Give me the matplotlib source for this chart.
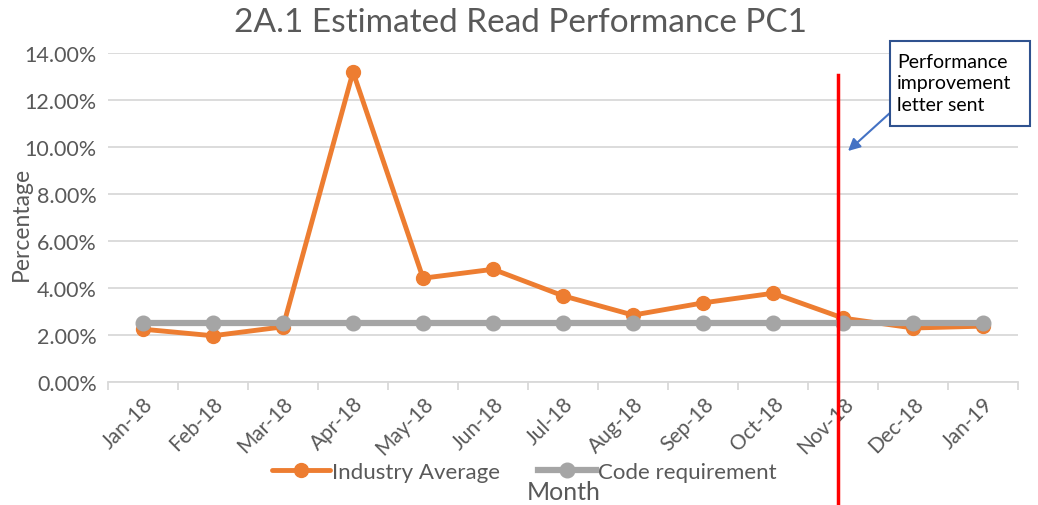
import matplotlib.pyplot as plt
from matplotlib.patches import Rectangle

plt.rcParams['font.family'] = ['Lato', 'DejaVu Sans']

# data
months = ["Jan-18", "Feb-18", "Mar-18", "Apr-18", "May-18", "Jun-18", "Jul-18",
          "Aug-18", "Sep-18", "Oct-18", "Nov-18", "Dec-18", "Jan-19"]
industry_avg = [2.25, 1.97, 2.35, 13.2, 4.42, 4.8, 3.67, 2.85, 3.37, 3.78, 2.72, 2.3, 2.38]
code_req = [2.5] * len(months)
letter_pos = 9.93  # red line, just before Nov-18

fig = plt.figure(figsize=(10.38, 5.06), dpi=100)
ax = fig.add_axes([0.104, 0.243, 0.877, 0.65])

x = range(len(months))
ax.plot(x, industry_avg, color="#ED7D31", lw=3.5, marker="o", ms=10,
        label="Industry Average", zorder=3, solid_capstyle="round")
ax.plot(x, code_req, color="#A5A5A5", lw=4.5, marker="o", ms=10.5,
        label="Code requirement", zorder=4)

ax.set_xlim(-0.5, len(months) - 0.5)
ax.set_ylim(0, 14)
ax.set_yticks(range(0, 15, 2))
ax.set_yticklabels([f"{v:.2f}%" for v in range(0, 15, 2)])
ax.set_xticks(list(x))
ax.set_xticklabels(months, rotation=45, ha="right", rotation_mode="anchor")
ax.set_xticks([i - 0.5 for i in range(len(months) + 1)], minor=True)

ax.grid(axis="y", color="#D9D9D9", lw=1.3)
ax.set_axisbelow(True)
for s in ["top", "right", "left"]:
    ax.spines[s].set_visible(False)
ax.spines["bottom"].set_color("#D9D9D9")
ax.spines["bottom"].set_linewidth(1.3)
ax.tick_params(axis="y", length=0, labelsize=15.5, labelcolor="#595959", pad=8)
ax.tick_params(axis="x", which="major", length=0, labelsize=15,
               labelcolor="#595959", pad=8)
ax.tick_params(axis="x", which="minor", length=6, color="#D9D9D9", width=1.3)

fig.text(0.501, 0.955, "2A.1 Estimated Read Performance PC1", fontsize=24,
         color="#595959", ha="center", va="center")
fig.text(0.021, 0.557, "Percentage", rotation=90, ha="center", va="center",
         fontsize=16.5, color="#595959")
fig.text(0.543, 0.027, "Month", ha="center", va="center",
         fontsize=18, color="#595959")

# red marker line for the letter
ax.plot([letter_pos, letter_pos], [-5.4, 13.06], color="red", lw=2.5,
        clip_on=False, zorder=5)

# callout box
fig.add_artist(Rectangle((890 / 1038, 1 - 127 / 506), 140 / 1038, 85 / 506,
                         transform=fig.transFigure, fc="white", ec="#2F528F",
                         lw=1.5, zorder=6))
fig.text(897 / 1038, 1 - 84 / 506, "Performance\nimprovement\nletter sent",
         ha="left", va="center", fontsize=14, color="black",
         linespacing=1.3, zorder=7)
ax.annotate("", xy=(848 / 1038, 1 - 152 / 506), xycoords="figure fraction",
            xytext=(891 / 1038, 1 - 113 / 506), textcoords="figure fraction",
            arrowprops=dict(arrowstyle="-|>", color="#4472C4", lw=1.5,
                            mutation_scale=18, shrinkA=0, shrinkB=0),
            annotation_clip=False, zorder=6)

fig.legend(loc="center", bbox_to_anchor=(0.505, 0.065), ncol=2, frameon=False,
           fontsize=16, labelcolor="#595959", handlelength=2.6,
           columnspacing=1.7, handletextpad=0.1)

fig.savefig("out.png", dpi=100)
